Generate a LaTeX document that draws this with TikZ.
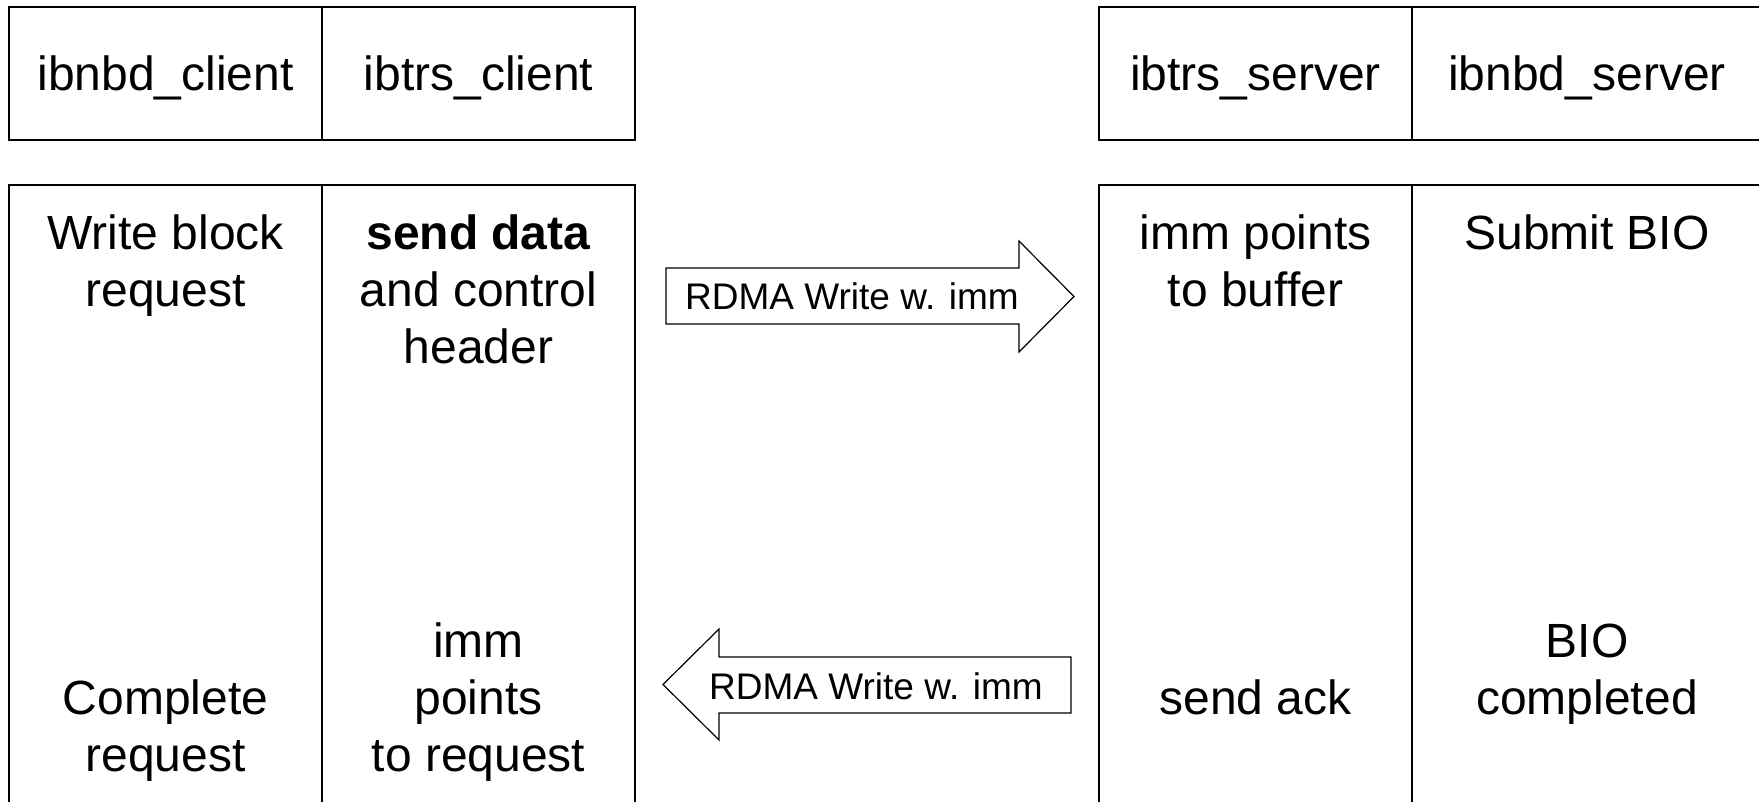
\documentclass[tikz,border=0pt]{standalone}
\usepackage{fontspec}
\setmainfont{Liberation Sans}
\begin{document}
\begin{tikzpicture}[x=1pt,y=-1pt,
  cell/.style={draw, line width=1.6pt, minimum width=313pt, inner sep=0pt, outer sep=0pt, anchor=north west},
  topcell/.style={cell, minimum height=133pt},
  botcell/.style={cell, minimum height=625pt},
  lbl/.style={inner sep=0pt, anchor=base, font=\fontsize{48}{57}\selectfont},
  alab/.style={inner sep=0pt, anchor=base, font=\fontsize{37}{44}\selectfont},
  arr/.style={draw, line width=1.2pt, fill=white, line join=miter}]
\fill[white] (0,0) rectangle (1759,802);
\useasboundingbox (0,0) rectangle (1759,802);
\clip (0,0) rectangle (1759,802);
% top row
\node[topcell] (tc1) at (9,7) {};
\node[topcell] (tc2) at (322,7) {};
\node[topcell] (ts1) at (1099,7) {};
\node[topcell, minimum width=352pt] (ts2) at (1412,7) {};
% bottom row
\node[botcell] (bc1) at (9,185) {};
\node[botcell] (bc2) at (322,185) {};
\node[botcell] (bs1) at (1099,185) {};
\node[botcell, minimum width=352pt] (bs2) at (1412,185) {};
% headers
\node[lbl] (h1) at (165.5,91) {ibnbd\_client};
\node[lbl] (h2) at (478.5,91) {ibtrs\_client};
\node[lbl] (h3) at (1255.5,91) {ibtrs\_server};
\node[lbl] (h4) at (1587,91) {ibnbd\_server};
% upper texts
\node[lbl] (u1) at (165.5,250) {\begin{tabular}[t]{@{}c@{}}Write block\\request\end{tabular}};
\node[lbl] (u2) at (478.5,250) {\begin{tabular}[t]{@{}c@{}}\textbf{send data}\\and control\\header\end{tabular}};
\node[lbl] (u3) at (1255.5,250) {\begin{tabular}[t]{@{}c@{}}imm points\\to buffer\end{tabular}};
\node[lbl] (u4) at (1587,250) {Submit BIO};
% lower texts
\node[lbl] (d1) at (165.5,771) {\begin{tabular}[b]{@{}c@{}}Complete\\request\end{tabular}};
\node[lbl] (d2) at (478.5,771) {\begin{tabular}[b]{@{}c@{}}imm\\points\\to request\end{tabular}};
\node[lbl] (d3) at (1255.5,714) {send ack};
\node[lbl] (d4) at (1587,714) {\begin{tabular}[b]{@{}c@{}}BIO\\completed\end{tabular}};
% arrows
\draw[arr] (666,268) -- (1019,268) -- (1019,241) -- (1074,296.5) -- (1019,352) -- (1019,324) -- (666,324) -- cycle;
\node[alab] (ra) at (852,309) {RDMA Write w. imm};
\draw[arr] (1071,657) -- (719,657) -- (719,629) -- (663,684.5) -- (719,740) -- (719,713) -- (1071,713) -- cycle;
\node[alab] (la) at (876,699) {RDMA Write w. imm};
\end{tikzpicture}
\end{document}
